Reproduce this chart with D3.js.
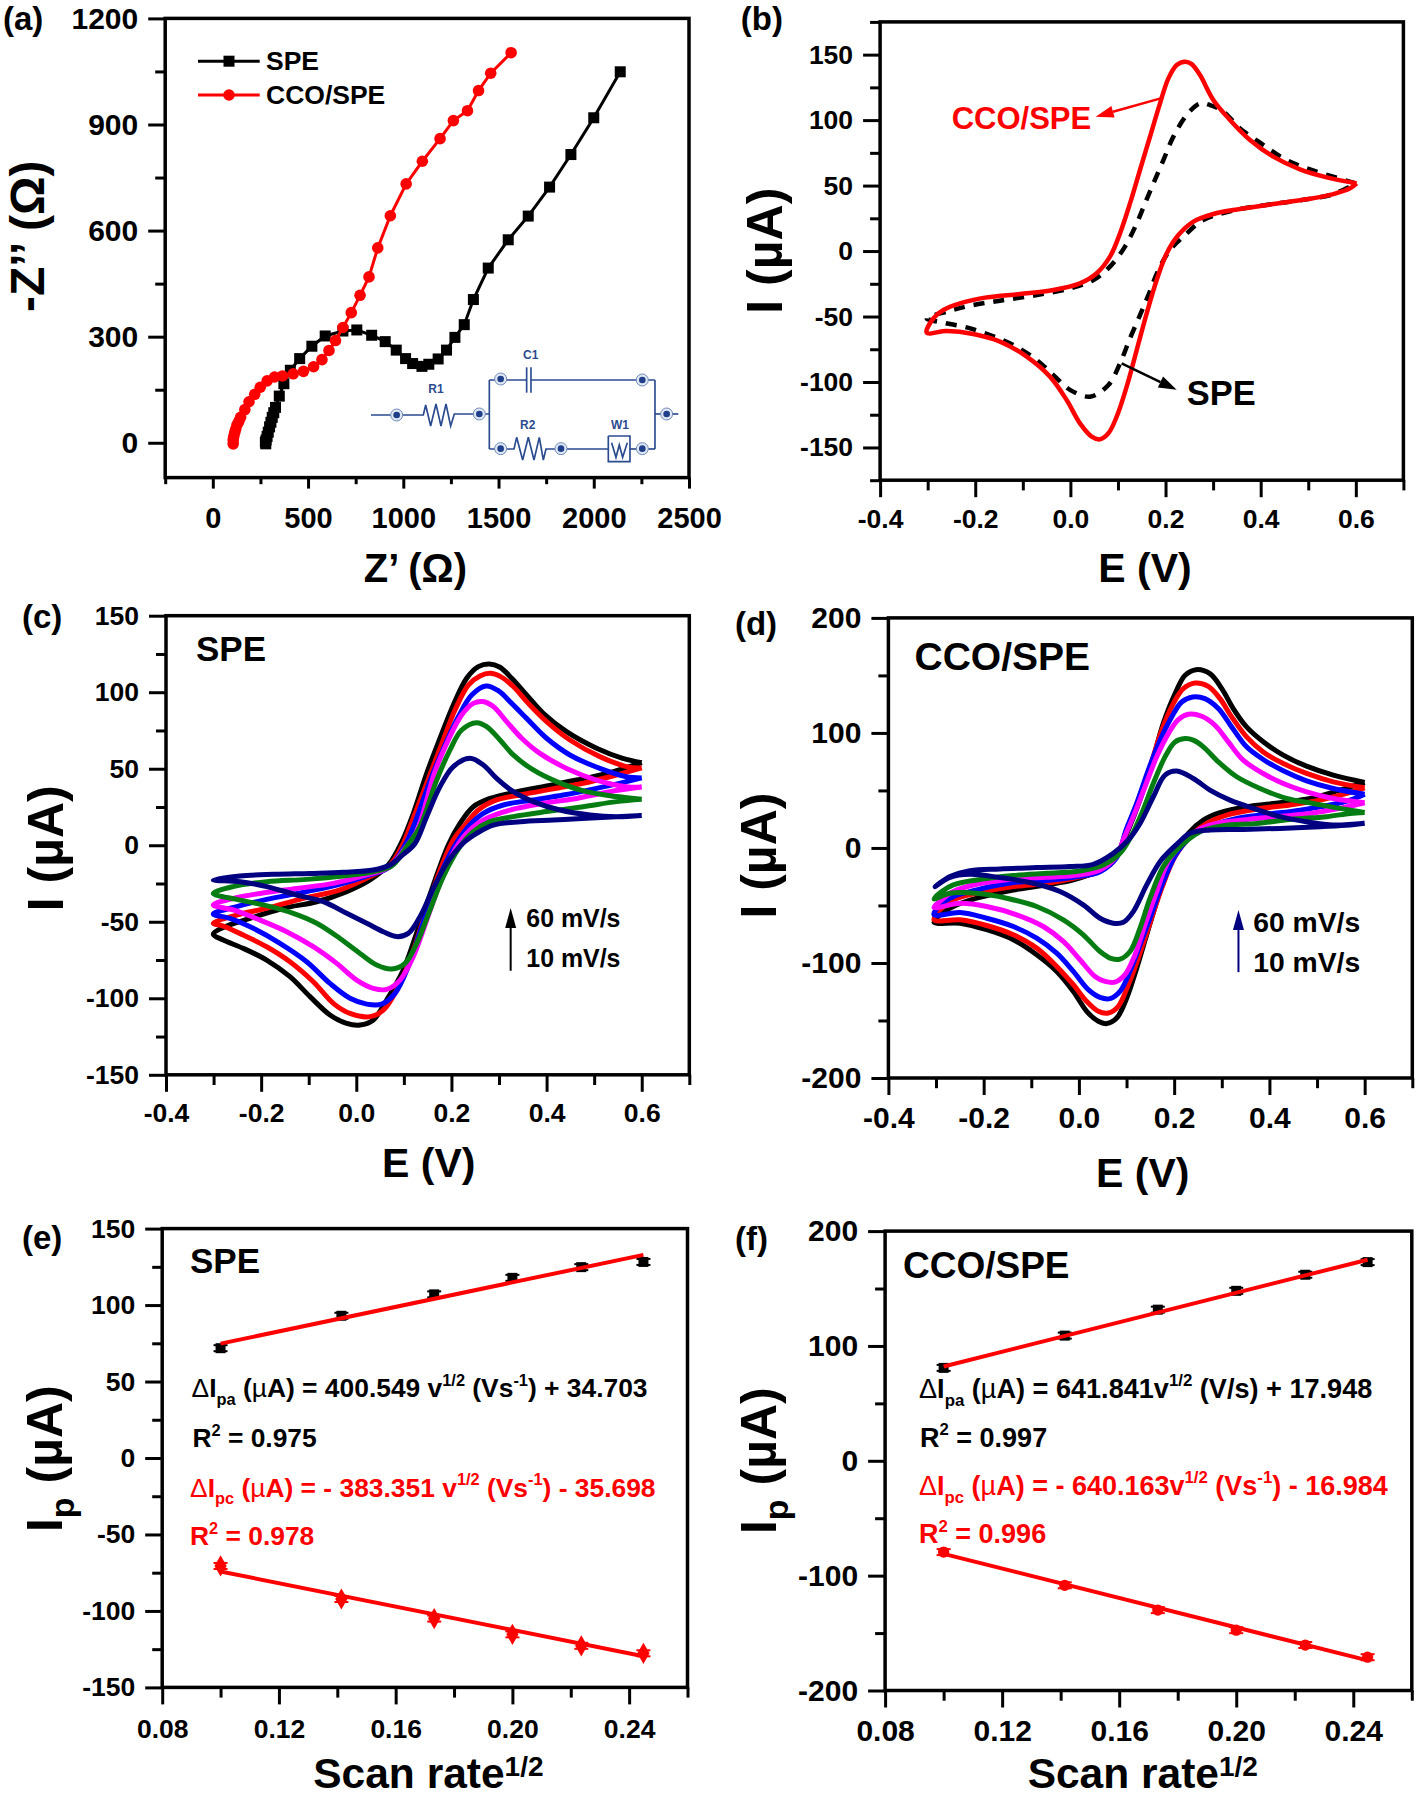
<!DOCTYPE html>
<html>
<head>
<meta charset="utf-8">
<script src="https://cdn.jsdelivr.net/npm/d3@7/dist/d3.min.js"></script>
<style>
html,body{margin:0;padding:0;background:#fff;}
text{font-family:"Liberation Sans",Arial,sans-serif;font-weight:bold;fill:#000;}
</style>
</head>
<body>
<script>
// (a) Nyquist
var nyqSPE = [[2139,1049],[2000,919],[1880,815],[1768,723],[1656,641],[1551,574],[1446,494],[1368,405],[1320,334],[1271,298],[1227,262],[1183,237],[1134,222],[1098,216],[1049,224],[1012,238],[963,262],[905,286],[834,304],[756,319],[683,316],[590,302],[520,273],[456,238],[407,205],[373,167],[349,132],[329,100],[320,85],[312,72],[305,58],[298,45],[291,30],[285,18],[280,8],[276,2],[278,-3]];
var nyqCCO = [[1566,1103],[1459,1045],[1395,996],[1337,939],[1263,911],[1193,860],[1100,796],[1015,732],[932,642],[866,551],[820,469],[773,417],[727,368],[683,326],[644,289],[610,261],[573,235],[529,215],[476,202],[422,195],[366,189],[324,186],[285,175],[249,157],[220,137],[190,116],[168,94],[146,72],[136,60],[127,51],[120,38],[115,29],[110,18],[107,8],[107,-3]];

// (b) SPE vs CCO/SPE at one scan rate
var cvSPE = [[.6,51.7],[.4967,63.2],[.4478,70.8],[.4057,81],[.3565,93.7],[.3216,106.5],[.2935,111.5],[.2725,112.8],[.2445,103.9],[.2165,87.4],[.1955,69.5],[.1745,51.7],[.1568,36.4],[.1379,19.9],[.1148,3.4],[.0832,-11.9],[.0484,-22.1],[0,-28.5],[-.0708,-33.6],[-.148,-37.9],[-.211,-41.7],[-.26,-46.3],[-.302,-51.4],[-.267,-54.7],[-.218,-58.3],[-.169,-64.2],[-.1198,-71.8],[-.0708,-83.2],[-.0357,-94.7],[0,-106.2],[.0412,-111.2],[.0799,-102.3],[.1043,-85.8],[.1253,-66.7],[.1463,-48.9],[.164,-33.6],[.185,-14.5],[.2094,.8],[.2375,11],[.2796,23.7],[.3565,32.1],[.4267,35.9],[.4967,39.5],[.5529,43.5],[.6,51.7]];
var cvCCO = [[.6018,51.7],[.5388,56.3],[.4827,62.4],[.4265,72.1],[.3775,84.8],[.3355,100.1],[.3004,115.4],[.2725,134.4],[.255,142.8],[.241,144.6],[.2235,142.1],[.206,131.9],[.1884,112.8],[.1673,87.3],[.1463,61.9],[.1253,36.4],[.1043,13.5],[.0832,-4.3],[.0553,-17],[.0202,-24.7],[-.0357,-29.8],[-.1059,-32.8],[-.176,-35.4],[-.232,-40],[-.267,-45],[-.288,-51.4],[-.302,-62.3],[-.26,-61.1],[-.204,-63.4],[-.148,-69.2],[-.0919,-80.6],[-.0429,-95.9],[-.0078,-113.8],[.0202,-131.6],[.0448,-141.7],[.0622,-143.8],[.0799,-139.2],[.0973,-126.5],[.1183,-103.6],[.1394,-75.6],[.1604,-47.6],[.1814,-22.1],[.2024,-1.8],[.227,12.2],[.2586,22.5],[.3006,28.3],[.3565,32.1],[.4267,35.9],[.4967,39.5],[.5529,43.5],[.5878,47.9],[.6018,51.7]];

// (c) SPE, scan rates
var c60 = [[.6,54],[.56,56.8],[.505,63.4],[.442,74.2],[.393,86.2],[.358,98.2],[.3267,109.1],[.302,116.3],[.2796,118.5],[.2565,116.7],[.232,109.1],[.204,91.7],[.176,69.9],[.148,47],[.12,20.9],[.0954,2],[.0673,-12.9],[.0288,-22.7],[-.0202,-30.3],[-.0832,-36.9],[-.1534,-41.2],[-.2235,-47.8],[-.2796,-53.7],[-.3006,-58.2],[-.2796,-61.9],[-.2375,-67.4],[-.1884,-75],[-.1394,-85.9],[-.0973,-98.9],[-.0553,-110.9],[-.0202,-116.4],[.0078,-117.5],[.0357,-114.2],[.0639,-101.1],[.0988,-81.5],[.1303,-54.3],[.1619,-26],[.1934,.2],[.218,14.3],[.246,25.2],[.281,30.6],[.33,34.4],[.393,38.3],[.463,42.6],[.533,47.5],[.6,54]];
var c50 = [[.6,50.5],[.568,51.4],[.512,57.9],[.449,68.8],[.4,80.8],[.3616,92.7],[.33,103.7],[.3035,110.2],[.281,112.4],[.26,110.6],[.2355,104.7],[.2075,88.4],[.18,66.6],[.148,40.5],[.113,12.1],[.0988,1.3],[.0708,-12.9],[.0288,-20.5],[-.0343,-29.2],[-.1114,-34.7],[-.1884,-41.2],[-.2514,-45.6],[-.3006,-51],[-.2796,-52.8],[-.2375,-58.7],[-.1884,-66.3],[-.1394,-76.1],[-.0904,-89.2],[-.0483,-103.3],[-.0132,-109.9],[.0288,-112],[.0568,-107.7],[.0849,-94.6],[.1129,-75],[.1408,-48.9],[.1724,-19.4],[.204,3.4],[.2285,13.2],[.2565,23],[.295,29.6],[.344,32.8],[.407,36.5],[.477,40.5],[.547,45.9],[.6,50.5]];
var c40 = [[.6,44],[.568,44.8],[.512,50.2],[.449,59],[.4,69.9],[.358,82.9],[.3267,92.7],[.2985,101],[.2727,104.1],[.2426,98.2],[.2145,84],[.1865,65.5],[.1585,44.8],[.12,12.1],[.1024,0],[.0708,-14],[.0288,-19.4],[-.0273,-24.9],[-.1043,-30.3],[-.1884,-35.4],[-.2514,-40.1],[-.3006,-44.9],[-.2655,-47.8],[-.2165,-54.3],[-.1604,-64.1],[-.1043,-76.1],[-.0553,-90.3],[-.0132,-100],[.0219,-103.8],[.0534,-103.8],[.0814,-96.8],[.1093,-79.3],[.1375,-53.2],[.169,-24.9],[.204,-2],[.2355,12.1],[.267,20.8],[.309,26.3],[.372,29.6],[.435,32.8],[.505,37.2],[.568,41.6],[.6,44]];
var c30 = [[.6,38],[.568,38.3],[.505,42.6],[.442,50.2],[.386,60],[.3477,69.9],[.316,80.8],[.288,90.6],[.2657,93.9],[.246,92.7],[.2215,85.1],[.1934,68.8],[.1654,48.1],[.127,9],[.1024,-2],[.0708,-14],[.0219,-19.4],[-.0483,-24.9],[-.1253,-28.2],[-.2024,-31.5],[-.2586,-34.7],[-.3006,-39],[-.2586,-42.3],[-.2024,-48.9],[-.1463,-56.5],[-.0904,-66.3],[-.0412,-77.2],[.0008,-88.1],[.0357,-93.5],[.0639,-94.2],[.0919,-88.1],[.1198,-72.8],[.148,-48.9],[.176,-24.9],[.211,-.9],[.2426,11],[.274,17.6],[.323,23],[.393,27.4],[.463,30.6],[.533,35],[.6,38]];
var c20 = [[.6,30],[.547,31.8],[.484,35],[.421,41.6],[.372,49.2],[.33,59],[.302,68.8],[.274,77.5],[.253,80.1],[.2215,75.3],[.197,62.3],[.169,42.6],[.134,12.1],[.1059,-.9],[.0744,-13.6],[.0357,-17.3],[-.0273,-20.1],[-.1043,-22.3],[-.1884,-23.8],[-.2586,-27],[-.3006,-31.5],[-.2514,-35.4],[-.1955,-39],[-.1324,-44.5],[-.0832,-51],[-.0343,-60.9],[.0078,-70.7],[.0429,-78.3],[.0744,-80.9],[.1024,-77.2],[.127,-64.1],[.1549,-42.3],[.1829,-20.5],[.218,-.9],[.246,8.9],[.281,15.4],[.33,18.7],[.4,22],[.477,25.2],[.547,28.5],[.6,30]];
var c10 = [[.6,19.5],[.547,18.7],[.491,19.8],[.428,23],[.372,28.5],[.33,35],[.295,43.7],[.267,52.4],[.239,56.8],[.204,51.4],[.176,38.3],[.148,18.7],[.123,1],[.0988,-6],[.0708,-12.9],[.0357,-16.2],[-.0273,-17.7],[-.0973,-18.4],[-.1745,-19],[-.2445,-20.1],[-.3006,-22.7],[-.2445,-23.8],[-.1884,-27],[-.1253,-32.5],[-.0694,-36.9],[-.0202,-44.5],[.0219,-51],[.0568,-56.5],[.0849,-59.7],[.1093,-57.6],[.1339,-46.7],[.1619,-28.2],[.19,-11.8],[.225,1.5],[.253,7.8],[.288,13.2],[.344,15.4],[.414,16.5],[.484,17.6],[.547,18.7],[.6,19.5]];

// (d) CCO/SPE, scan rates
var d60 = [[.6,57],[.534,63.3],[.478,71.1],[.429,80.7],[.387,92.3],[.352,105.2],[.324,121.2],[.3,138.5],[.275,151.5],[.246,155],[.223,150.1],[.202,134.2],[.177,108.1],[.153,73.4],[.128,41.6],[.1037,15.6],[.0794,-6.1],[.0443,-19.1],[-.0117,-27.8],[-.0676,-32.1],[-.1377,-36.5],[-.2146,-43.7],[-.2637,-50.9],[-.2916,-58.1],[-.3042,-64.6],[-.2496,-65.4],[-.1936,-71.1],[-.1377,-79.8],[-.0886,-92.8],[-.0466,-107.3],[-.0117,-124.7],[.0164,-142],[.0407,-150.7],[.0584,-152.7],[.0794,-147.9],[.1004,-130.5],[.1214,-104.5],[.1423,-75.5],[.1703,-37.9],[.1982,-9],[.2298,12.7],[.2612,24.3],[.2963,30.7],[.3523,35.9],[.4222,39.3],[.4852,43],[.5482,50.3],[.6,57]];
var d50 = [[.6,52.3],[.534,57.5],[.478,64.8],[.429,73.4],[.387,83.5],[.352,96.6],[.3208,113.9],[.2963,129.8],[.2717,140.5],[.2438,143.4],[.2192,138.5],[.1982,125.5],[.1738,102.3],[.1493,70.5],[.1247,41.6],[.1004,15.6],[.0793,-7],[.0443,-20],[-.0117,-26.3],[-.0676,-30.7],[-.1377,-33.6],[-.2146,-39.4],[-.2637,-45.1],[-.2916,-53.8],[-.3042,-62.5],[-.2496,-62.5],[-.1936,-67.4],[-.1377,-75.5],[-.0886,-87.1],[-.0466,-103],[-.0117,-118.9],[.0164,-133.4],[.0407,-142],[.0617,-143.5],[.0827,-137.7],[.1037,-118.9],[.1247,-95.8],[.1457,-69.8],[.1738,-35],[.2018,-7.5],[.2368,11.2],[.2683,21.3],[.3103,28.6],[.3733,33.8],[.4432,37.3],[.5062,41.6],[.5622,47.4],[.6,52.3]];
var d40 = [[.6,46.7],[.534,51.7],[.478,58.4],[.429,67.1],[.387,76.9],[.352,87.9],[.3208,105.2],[.2927,121.2],[.2647,129.8],[.239,131.3],[.2158,126.9],[.1948,113.9],[.1703,93.7],[.1457,67.6],[.1213,38.7],[.0989,15.6],[.0793,-8.4],[.0443,-20.6],[-.0117,-25.5],[-.0676,-28.4],[-.1377,-30.1],[-.2146,-36.4],[-.2637,-42.3],[-.2916,-49.5],[-.3042,-58.1],[-.2496,-56.1],[-.1936,-61.1],[-.1377,-68.3],[-.0886,-78.4],[-.0466,-91.5],[-.0117,-107.3],[.0197,-123.2],[.0443,-129.9],[.0653,-131],[.0863,-124.7],[.1073,-107.3],[.1283,-84.2],[.1493,-61.1],[.1772,-29.2],[.2053,-4.7],[.2438,12.7],[.2822,19.9],[.3313,25.7],[.3943,29.2],[.4642,32.9],[.5272,37.3],[.5692,41.6],[.6,46.7]];
var d30 = [[.6,39.3],[.534,43],[.478,48.8],[.429,56],[.387,64.7],[.345,76.3],[.3137,92.2],[.2857,106.7],[.2578,114.5],[.2297,116.2],[.2087,111.6],[.1877,99.4],[.1633,79.2],[.1388,53.2],[.1142,27.2],[.0932,7],[.0793,-7],[.0443,-19.1],[-.0117,-24],[-.0676,-25.5],[-.1377,-26.9],[-.2146,-31.6],[-.2637,-37.9],[-.288,-45.1],[-.3042,-51.8],[-.2496,-48.1],[-.1936,-50.9],[-.1306,-58.1],[-.0747,-68.3],[-.0327,-81.3],[.0023,-97.2],[.0338,-111.7],[.0548,-116],[.0758,-116.6],[.0968,-110.2],[.1178,-92.8],[.1388,-66.8],[.1633,-37.9],[.1913,-9],[.2507,15.6],[.2893,21.3],[.3452,24.3],[.4153,27.2],[.4852,30],[.5482,34.4],[.6,39.3]];
var d20 = [[.6,30.9],[.5482,34.4],[.4922,38.7],[.4362,43],[.3803,51.7],[.3313,61.9],[.2927,74.9],[.2612,87.9],[.2402,93.7],[.2228,95.1],[.2018,92.2],[.1808,79.2],[.1562,56],[.1318,30],[.1108,11],[.0863,-4.7],[.0512,-14.8],[.0023,-20],[-.0676,-22],[-.1377,-24],[-.2146,-27.8],[-.2637,-32.1],[-.288,-37.9],[-.3042,-44.3],[-.2706,-39.4],[-.2146,-39.4],[-.1516,-43.7],[-.0886,-50.9],[-.0327,-62.5],[.0092,-75.5],[.0443,-90],[.0689,-96.3],[.0863,-96.7],[.1073,-90],[.1283,-69.8],[.1493,-43.7],[.1772,-16.2],[.2053,-1.7],[.2543,14.1],[.3032,19.4],[.3733,21.3],[.4432,24.8],[.5203,27.2],[.5692,30],[.6,30.9]];
var d10 = [[.6,21.4],[.534,19.9],[.478,22.8],[.4222,27.2],[.3662,34.4],[.3172,41.6],[.2752,50.3],[.2402,60.4],[.2053,66.8],[.1808,63.3],[.1562,44.5],[.1283,21.3],[.1037,6.9],[.0722,-4.7],[.0302,-14.2],[-.0187,-16.2],[-.0886,-17.1],[-.1656,-18.2],[-.2286,-19.7],[-.2706,-24.9],[-.3021,-33.6],[-.2706,-25.5],[-.2286,-22.9],[-.1656,-25.8],[-.0957,-30.7],[-.0397,-37.9],[.0092,-49.5],[.0443,-61.1],[.0722,-65.4],[.0932,-64.6],[.1142,-55.3],[.1423,-32.1],[.1703,-11.9],[.2053,3.1],[.2333,12.7],[.2752,15.6],[.3452,16.1],[.4222,17],[.5062,18.5],[.5692,19.9],[.6,21.4]];

// (e),(f) peak current vs root scan rate
var rootRate = [.1,.1414,.1732,.2,.2236,.2449];
var eIpa = [71.8,93,107,117.8,124.8,128.2];
var eIpc = [-70.6,-92.2,-105,-115.3,-122.8,-127.7];
var eFitA = [[.1,74.8],[.2449,132.8]];
var eFitC = [[.1,-74.2],[.2449,-129.6]];
var fIpa = [80.9,109,131.6,148,162,173];
var fIpc = [-79.5,-108.4,-130,-147.5,-160.4,-171];
var fFitA = [[.1,82.1],[.2449,175.1]];
var fFitC = [[.1,-81],[.2449,-173.8]];

// ticks
var cvXMajor = [-.4,-.2,0,.2,.4,.6], cvXMinor = [-.3,-.1,.1,.3,.5,.7];
var rateXMajor = [.08,.12,.16,.20,.24], rateXMinor = [.10,.14,.18,.22,.26];

var scanColors = ["#000000","#ff0000","#0000ff","#ff00ff","#067d12","#000080"];

var svg = d3.select("body").append("svg").attr("width",1418).attr("height",1796).style("display","block");
svg.append("rect").attr("width",1418).attr("height",1796).attr("fill","#fff");

function makePanel(o) {
  var x = d3.scaleLinear().domain(o.xDomain).range([o.left,o.right]);
  var y = d3.scaleLinear().domain(o.yDomain).range([o.bottom,o.top]);
  var g = svg.append("g");

  var xMin = d3.axisBottom(x).tickValues(o.xMinor).tickSize(o.xTick*0.6).tickFormat("");
  var yMin = d3.axisLeft(y).tickValues(o.yMinor).tickSize(10).tickFormat("");
  var xMaj = d3.axisBottom(x).tickValues(o.xMajor).tickSize(o.xTick).tickPadding(o.xPad).tickFormat(o.xFormat);
  var yMaj = d3.axisLeft(y).tickValues(o.yMajor).tickSize(17).tickPadding(10).tickFormat(function(d){ return String(d); });
  [xMin,xMaj].forEach(function(a){
    var ag = g.append("g").attr("transform","translate(0,"+o.bottom+")").call(a);
    ag.select(".domain").remove();
    ag.selectAll("line").attr("stroke","#000").attr("stroke-width",3);
    ag.selectAll("text").attr("font-size",o.font);
  });
  [yMin,yMaj].forEach(function(a){
    var ag = g.append("g").attr("transform","translate("+o.left+",0)").call(a);
    ag.select(".domain").remove();
    ag.selectAll("line").attr("stroke","#000").attr("stroke-width",3);
    ag.selectAll("text").attr("font-size",o.yFont||o.font);
  });
  g.append("rect").attr("x",o.left).attr("y",o.top).attr("width",o.right-o.left).attr("height",o.bottom-o.top)
    .attr("fill","none").attr("stroke","#000").attr("stroke-width",3.5);

  return {g:g,x:x,y:y};
}

function label(t,px,py,size,color,anchor) {
  return svg.append("text").attr("x",px).attr("y",py).attr("font-size",size)
    .attr("text-anchor",anchor||"start").style("fill",color||"#000").text(t);
}
function yTitle(t,px,py,size) {
  return svg.append("text").attr("transform","translate("+px+","+py+") rotate(-90)")
    .attr("text-anchor","middle").attr("font-size",size).text(t);
}
function arrow(p,d1,d2,color,w,len,hw) {
  var x1=p.x(d1[0]),y1=p.y(d1[1]),x2=p.x(d2[0]),y2=p.y(d2[1]);
  var a=Math.atan2(y2-y1,x2-x1),bx=x2-len*Math.cos(a),by=y2-len*Math.sin(a);
  p.g.append("line").attr("x1",x1).attr("y1",y1).attr("x2",bx).attr("y2",by).attr("stroke",color).attr("stroke-width",w);
  p.g.append("path").attr("fill",color).attr("d","M"+x2+","+y2+"L"+(bx-hw*Math.sin(a))+","+(by+hw*Math.cos(a))+"L"+(bx+hw*Math.sin(a))+","+(by-hw*Math.cos(a))+"Z");
}
function rich(px,py,size,color,parts) {
  var t = svg.append("text").attr("x",px).attr("y",py).attr("font-size",size).style("fill",color);
  var off = 0;
  parts.forEach(function(s){
    var kind = s[1]||"n", want = kind=="sub"?size*0.3:kind=="sup"?-size*0.42:0;
    var ts = t.append("tspan").attr("dy",want-off).text(s[0]);
    off = want;
    if (kind=="sub"||kind=="sup") ts.attr("font-size",size*0.62);
    if (kind=="sym") ts.style("font-weight","normal");
  });
  return t;
}

var cvLine = function(p){
  return d3.line().x(function(d){return p.x(d[0]);}).y(function(d){return p.y(d[1]);}).curve(d3.curveCatmullRom.alpha(0.5));
};
var fmt1 = function(d){ return d.toFixed(1); };
var fmt2 = function(d){ return d.toFixed(2); };

// ---------- (a)
var pa = makePanel({left:165.2,right:689,top:18.4,bottom:477.6,xDomain:[-250,2500],yDomain:[-98.5,1200],
  xMajor:[0,500,1000,1500,2000,2500],xMinor:[-250,250,750,1250,1750,2250],yMajor:[0,300,600,900,1200],yMinor:[150,450,750,1050],
  xTick:11,xPad:19,font:29,yFont:30,xFormat:function(d){return String(d);}});
var straight = d3.line().x(function(d){return pa.x(d[0]);}).y(function(d){return pa.y(d[1]);});
pa.g.append("path").attr("fill","none").attr("stroke","#000").attr("stroke-width",3).attr("d",straight(nyqSPE));
pa.g.selectAll("rect.spe").data(nyqSPE).enter().append("rect").attr("class","spe").attr("fill","#000")
  .attr("x",function(d){return pa.x(d[0])-5.5;}).attr("y",function(d){return pa.y(d[1])-5.5;}).attr("width",11).attr("height",11);
pa.g.append("path").attr("fill","none").attr("stroke","#f00").attr("stroke-width",3).attr("d",straight(nyqCCO));
pa.g.selectAll("circle.cco").data(nyqCCO).enter().append("circle").attr("class","cco").attr("fill","#f00")
  .attr("cx",function(d){return pa.x(d[0]);}).attr("cy",function(d){return pa.y(d[1]);}).attr("r",5.8);
// legend
pa.g.append("line").attr("x1",198).attr("x2",259.7).attr("y1",61.2).attr("y2",61.2).attr("stroke","#000").attr("stroke-width",3);
pa.g.append("rect").attr("x",223.5).attr("y",55.7).attr("width",11).attr("height",11).attr("fill","#000");
pa.g.append("line").attr("x1",198).attr("x2",259.7).attr("y1",95).attr("y2",95).attr("stroke","#f00").attr("stroke-width",3);
pa.g.append("circle").attr("cx",229).attr("cy",95).attr("r",5.8).attr("fill","#f00");
label("SPE",266,69.6,26.5);
label("CCO/SPE",266,103.5,26.5);
label("(a)",3,29.8,33);
yTitle("-Z’’ (Ω)",44.3,236.3,48);
label("Z’ (Ω)",415.4,581.5,40,"#000","middle");

// equivalent circuit, schematic drawn in its own small coordinates
var circuitWires = [
  [[33,195],[190,195],[197,165],[212,228],[228,162],[243,228],[258,162],[272,228],[283,192],[388,192]],
  [[388,90],[388,297]],
  [[388,90],[500,90]],[[500,52],[500,128]],[[513,52],[513,128]],[[513,90],[885,90]],
  [[885,90],[885,297]],
  [[388,297],[462,297],[470,262],[488,330],[505,262],[522,330],[538,262],[550,330],[558,297],[745,297]],
  [[810,297],[885,297]],[[885,192],[955,192]],
  [[745,258],[810,258],[810,335],[745,335],[745,258]],
  [[755,278],[768,322],[778,285],[788,322],[802,278]]
];
var circuitNodes = [[110,195],[358,192],[422,87],[847,90],[422,296],[603,296],[847,296],[920,192]];
var circuitLabels = [["R1",228,128],["C1",512,28],["R2",503,238],["W1",780,238]];
var cg = pa.g.append("g").attr("transform","translate(360,350) scale(.3333)");
var wire = d3.line();
circuitWires.forEach(function(w){
  cg.append("path").attr("d",wire(w)).attr("fill","none").attr("stroke","#2b4b8f").attr("stroke-width",5);
});
circuitNodes.forEach(function(n){
  cg.append("circle").attr("cx",n[0]).attr("cy",n[1]).attr("r",18).attr("fill","#dfe7f2").attr("stroke","#6f8bb8").attr("stroke-width",3);
  cg.append("circle").attr("cx",n[0]).attr("cy",n[1]).attr("r",10).attr("fill","#1f3f8a");
});
circuitLabels.forEach(function(l){
  cg.append("text").attr("x",l[1]).attr("y",l[2]).attr("text-anchor","middle").attr("font-size",36).style("fill","#2b4b8f").text(l[0]);
});

// ---------- (b)
var pb = makePanel({left:880.1,right:1403.4,top:21.9,bottom:480.2,xDomain:[-.4,.7],yDomain:[-175,175],
  xMajor:cvXMajor,xMinor:cvXMinor,yMajor:[-150,-100,-50,0,50,100,150],yMinor:[-175,-125,-75,-25,25,75,125,175],
  xTick:17,xPad:12,font:26.5,xFormat:fmt1});
pb.g.append("path").attr("fill","none").attr("stroke","#000").attr("stroke-width",4.5).attr("stroke-dasharray","11,9").attr("d",cvLine(pb)(cvSPE));
pb.g.append("path").attr("fill","none").attr("stroke","#f00").attr("stroke-width",4.5).attr("d",cvLine(pb)(cvCCO));
arrow(pb,[.1898,116.6],[.0531,102.6],"#f00",2.5,18,6);
arrow(pb,[.1077,-85.7],[.2234,-106],"#000",2.5,18,6);
label("CCO/SPE",951.7,129.3,31,"#f00");
label("SPE",1186.7,405,34.5);
label("(b)",740.8,29.8,33);
yTitle("I (µA)",781.6,250.7,50);
label("E (V)",1145,581.5,41,"#000","middle");

// ---------- (c)
var pc = makePanel({left:166,right:689.3,top:615.7,bottom:1074.8,xDomain:[-.4,.7],yDomain:[-150,150],
  xMajor:cvXMajor,xMinor:cvXMinor,yMajor:[-150,-100,-50,0,50,100,150],yMinor:[-125,-75,-25,25,75,125],
  xTick:17,xPad:11,font:26.5,xFormat:fmt1});
[c60,c50,c40,c30,c20,c10].forEach(function(s,i){
  pc.g.append("path").attr("fill","none").attr("stroke",scanColors[i]).attr("stroke-width",5).attr("d",cvLine(pc)(s));
});
arrow(pc,[.3245,-82],[.3245,-41],"#000",2,20,5.5);
label("SPE",196,660.6,35);
label("60 mV/s",526.3,927.3,24.9);
label("10 mV/s",526.3,967,24.9);
label("(c)",21.9,627.8,33);
yTitle("I (µA)",62.5,848.3,50);
label("E (V)",428.8,1177,41,"#000","middle");

// ---------- (d)
var pd = makePanel({left:888.4,right:1412.3,top:617.9,bottom:1078,xDomain:[-.4,.7],yDomain:[-200,200],
  xMajor:cvXMajor,xMinor:cvXMinor,yMajor:[-200,-100,0,100,200],yMinor:[-150,-50,50,150],
  xTick:17,xPad:12,font:30,xFormat:fmt1});
[d60,d50,d40,d30,d20,d10].forEach(function(s,i){
  pd.g.append("path").attr("fill","none").attr("stroke",scanColors[i]).attr("stroke-width",5).attr("d",cvLine(pd)(s));
});
arrow(pd,[.335,-108],[.335,-54],"#000080",2,20,5.5);
label("CCO/SPE",914.5,669.6,39);
label("60 mV/s",1253.2,932.2,28.3);
label("10 mV/s",1253.2,971.5,28.3);
label("(d)",734.9,634.8,33);
yTitle("I (µA)",776.4,855.6,50);
label("E (V)",1142.8,1187,41,"#000","middle");

// ---------- (e),(f)
function ratePanel(o,ipa,ipc,fitA,fitC,redShape) {
  var p = makePanel(o);
  var fit = d3.line().x(function(d){return p.x(d[0]);}).y(function(d){return p.y(d[1]);});
  function points(vals,color,shape,err) {
    vals.forEach(function(v,i){
      var cx=p.x(rootRate[i]),cy=p.y(v);
      p.g.append("line").attr("x1",cx-7).attr("x2",cx+7).attr("y1",cy-err).attr("y2",cy-err).attr("stroke",color).attr("stroke-width",2);
      p.g.append("line").attr("x1",cx-7).attr("x2",cx+7).attr("y1",cy+err).attr("y2",cy+err).attr("stroke",color).attr("stroke-width",2);
      p.g.append("path").attr("fill",color).attr("transform","translate("+cx+","+cy+")")
        .attr("d",d3.symbol().type(shape).size(shape==d3.symbolDiamond?130:100)());
    });
  }
  points(ipa,"#000",d3.symbolSquare,3);
  points(ipc,"#f00",redShape,3);
  [fitA,fitC].forEach(function(f){
    p.g.append("path").attr("fill","none").attr("stroke","#f00").attr("stroke-width",4).attr("d",fit(f));
  });
  return p;
}
ratePanel({left:162.2,right:687.5,top:1228.6,bottom:1687.4,xDomain:[.08,.26],yDomain:[-150,150],
  xMajor:rateXMajor,xMinor:rateXMinor,yMajor:[-150,-100,-50,0,50,100,150],yMinor:[-125,-75,-25,25,75,125],
  xTick:17,xPad:15,font:26.5,xFormat:fmt2},eIpa,eIpc,eFitA,eFitC,d3.symbolDiamond);
ratePanel({left:885.1,right:1411.8,top:1231.1,bottom:1690.5,xDomain:[.08,.26],yDomain:[-200,200],
  xMajor:rateXMajor,xMinor:rateXMinor,yMajor:[-200,-100,0,100,200],yMinor:[-150,-50,50,150],
  xTick:17,xPad:12,font:30,xFormat:fmt2},fIpa,fIpc,fFitA,fFitC,d3.symbolCircle);

label("SPE",190,1272.6,35);
label("(e)",22,1248.7,33);
rich(191.5,1397,26.4,"#000",[["Δ","sym"],["I"],["pa","sub"],[" ("],["µ","sym"],["A) = 400.549 v"],["1/2","sup"],[" (Vs"],["-1","sup"],[") + 34.703"]]);
rich(192.4,1446.7,26.4,"#000",[["R"],["2","sup"],[" = 0.975"]]);
rich(190,1496.5,26.4,"#f00",[["Δ","sym"],["I"],["pc","sub"],[" ("],["µ","sym"],["A) = - 383.351 v"],["1/2","sup"],[" (Vs"],["-1","sup"],[") - 35.698"]]);
rich(190,1545.2,26.4,"#f00",[["R"],["2","sup"],[" = 0.978"]]);

label("CCO/SPE",903,1277.6,37);
label("(f)",735,1249.7,33);
rich(919,1397.7,27.1,"#000",[["Δ","sym"],["I"],["pa","sub"],[" ("],["µ","sym"],["A) = 641.841v"],["1/2","sup"],[" (V/s) + 17.948"]]);
rich(920,1446.7,27,"#000",[["R"],["2","sup"],[" = 0.997"]]);
rich(919,1494.5,27,"#f00",[["Δ","sym"],["I"],["pc","sub"],[" ("],["µ","sym"],["A) = - 640.163v"],["1/2","sup"],[" (Vs"],["-1","sup"],[") - 16.984"]]);
rich(919,1543.2,27,"#f00",[["R"],["2","sup"],[" = 0.996"]]);

function ipTitle(px,py) {
  var t = svg.append("text").attr("transform","translate("+px+","+py+") rotate(-90)").attr("text-anchor","middle").attr("font-size",50);
  t.append("tspan").text("I");
  t.append("tspan").attr("font-size",34).attr("dy",12).text("p");
  t.append("tspan").attr("dy",-12).text(" (µA)");
}
ipTitle(61.7,1458.7);
ipTitle(776.4,1460.7);
function rateTitle(px,py) {
  var t = svg.append("text").attr("x",px).attr("y",py).attr("text-anchor","middle").attr("font-size",42.5);
  t.append("tspan").text("Scan rate");
  t.append("tspan").attr("font-size",28).attr("dy",-12).text("1/2");
}
rateTitle(428.4,1788);
rateTitle(1142.8,1788);
</script>
</body>
</html>
